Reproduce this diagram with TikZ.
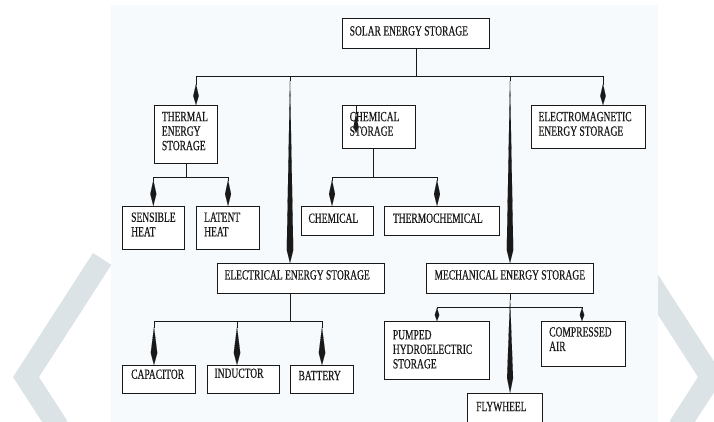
\documentclass[tikz,border=0pt]{standalone}
\usepackage{fontspec}
\setmainfont{Liberation Serif}[FakeStretch=0.68, FakeBold=0.4]
\usetikzlibrary{arrows.meta}
\definecolor{panel}{RGB}{246,250,253}
\definecolor{wm}{RGB}{220,227,231}
\definecolor{ink}{RGB}{25,25,25}
\tikzset{
  box/.style 2 args={draw=ink, line width=1.1pt, fill=white, anchor=north west,
    inner sep=0pt, minimum width=#1, minimum height=#2},
  txt/.style={anchor=north west, inner sep=0pt, align=left, text=ink,
    font=\fontsize{14}{14.5}\selectfont},
  conn/.style={draw=ink, line width=0.9pt},
  kite/.style n args={3}{conn, -{Kite[length=#1, width=#2, inset=#3, line width=0.1pt]}},
  tipshort/.style={kite={21pt}{5.5pt}{12pt}},
  tipmid/.style={kite={26pt}{6pt}{14pt}},
  tiplow/.style={kite={38pt}{6.5pt}{26pt}},
  tiptiny/.style={kite={13pt}{4.5pt}{7pt}},
  tiplong/.style={kite={185pt}{6.5pt}{172pt}},
  tipfly/.style={kite={95pt}{6pt}{80pt}},
}
\begin{document}
\begin{tikzpicture}[x=1pt, y=-1pt]
\useasboundingbox (0,0) rectangle (714,421);
\clip (0,0) rectangle (714,421);
\fill[white] (0,0) rectangle (714,421);
% watermark chevrons
\draw[wm, line width=21.8pt, line join=miter] (102.2,258.9) -- (26,377) -- (58.3,427);
\draw[wm, line width=21.8pt, line join=miter] (622.6,240) -- (711,377) -- (678.7,427);
% panel
\fill[panel] (111,5) rectangle (658,430);

% boxes
\node[box={147pt}{30pt}]   (solar)      at (342,18) {};
\node[box={63pt}{58pt}]    (thermal)    at (154,105) {};
\node[box={73pt}{43pt}]    (chemstor)   at (342,105) {};
\node[box={114.5pt}{43pt}] (em)         at (530.5,105) {};
\node[box={62.4pt}{43pt}]  (sensible)   at (121.6,206) {};
\node[box={63pt}{43pt}]    (latent)     at (196,206) {};
\node[box={72.5pt}{29pt}]  (chemical)   at (300.5,206) {};
\node[box={115pt}{29pt}]   (thermochem) at (384,206) {};
\node[box={167pt}{30pt}]   (electrical) at (216.5,263) {};
\node[box={167pt}{30pt}]   (mechanical) at (426,263) {};
\node[box={73.4pt}{28pt}]  (capacitor)  at (121.6,365) {};
\node[box={72pt}{28pt}]    (inductor)   at (207,365) {};
\node[box={63pt}{28pt}]    (battery)    at (290,365) {};
\node[box={105pt}{58pt}]   (pumped)     at (384,321) {};
\node[box={84pt}{45pt}]    (compressed) at (541,321) {};
\node[box={75pt}{45pt}]    (flywheel)   at (467,393) {};

% texts
\node[txt] (solar-t)      at (349.5,26)   {SOLAR ENERGY STORAGE};
\node[txt] (thermal-t)    at (161.7,111.7) {THERMAL\\ENERGY\\STORAGE};
\node[txt] (chemstor-t)   at (349.5,111.7) {CHEMICAL\\STORAGE};
\node[txt] (em-t)         at (538.3,111.7) {ELECTROMAGNETIC\\ENERGY STORAGE};
\node[txt] (sensible-t)   at (131,212.3)   {SENSIBLE\\HEAT};
\node[txt] (latent-t)     at (204,212.3)   {LATENT\\HEAT};
\node[txt] (chemical-t)   at (308.3,213.3) {CHEMICAL};
\node[txt] (thermochem-t) at (392.7,213.3) {THERMOCHEMICAL};
\node[txt] (electrical-t) at (224.3,270)   {ELECTRICAL ENERGY STORAGE};
\node[txt] (mechanical-t) at (434.3,270)   {MECHANICAL ENERGY STORAGE};
\node[txt] (capacitor-t)  at (131,369.3)   {CAPACITOR};
\node[txt] (inductor-t)   at (214.3,368.3) {INDUCTOR};
\node[txt] (battery-t)    at (298.3,370.7) {BATTERY};
\node[txt] (pumped-t)     at (392.7,330)   {PUMPED\\HYDROELECTRIC\\STORAGE};
\node[txt] (compressed-t) at (549,327)     {COMPRESSED\\AIR};
\node[txt] (flywheel-t)   at (476,401.7)   {FLYWHEEL};

% level 1 bus
\coordinate (b1) at (196,76);
\coordinate (b2) at (290,76);
\coordinate (b4) at (510,76);
\coordinate (b5) at (603,76);
\draw[conn] (solar.south) -- (solar.south |- b1);
\draw[conn] (b1) -- (b5);
\draw[tipshort] (b1) -- (b1 |- thermal.north);
\draw[tiplong]  (b2) -- (b2 |- electrical.north);
\draw[tiplong]  (b4) -- (b4 |- mechanical.north);
\draw[tipshort] (b5) -- (b5 |- em.north);

% thermal branch
\coordinate (t1) at (sensible.north |- 0,177);
\coordinate (t2) at (latent.north |- 0,177);
\draw[conn] (thermal.south) -- (thermal.south |- t1);
\draw[conn] (t1) -- (t2);
\draw[tipmid] (t1) -- (sensible.north);
\draw[tipmid] (t2) -- (latent.north);

% chemical branch
\coordinate (c0) at (373,148);
\coordinate (c1) at (332,177);
\coordinate (c2) at (437,177);
\draw[conn] (c0) -- (c0 |- c1);
\draw[conn] (c1) -- (c2);
\draw[tipmid] (c1) -- (c1 |- chemical.north);
\draw[tipmid] (c2) -- (c2 |- thermochem.north);

% electrical branch
\coordinate (e0) at (290,293);
\coordinate (e1) at (154,321);
\coordinate (e2) at (237,321);
\coordinate (e3) at (322,321);
\draw[conn] (e0) -- (e0 |- e1);
\draw[conn] (e1) -- (e3);
\draw[tiplow] (e1) -- (e1 |- capacitor.north);
\draw[tiplow] (e2) -- (e2 |- inductor.north);
\draw[tiplow] (e3) -- (e3 |- battery.north);

% mechanical branch
\coordinate (m1) at (437,307);
\coordinate (m2) at (582,307);
\draw[conn] (m1) -- (m2);
\draw[tiptiny] (m1) -- (m1 |- pumped.north);
\draw[tiptiny] (m2) -- (m2 |- compressed.north);
\draw[tipfly] (mechanical.south) -- (mechanical.south |- flywheel.north);

% stray arrow inside chemical storage box
\coordinate (s0) at (356,105);
\coordinate (s1) at (356,133);
\draw[kite={20pt}{5pt}{14pt}] (s0) -- (s1);
\end{tikzpicture}
\end{document}
